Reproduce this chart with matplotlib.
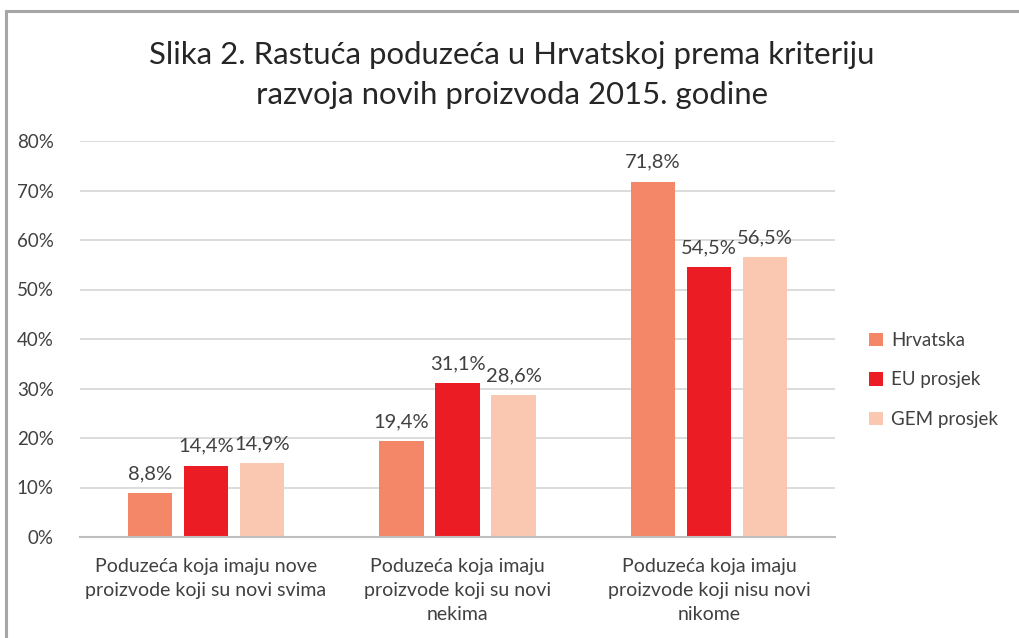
import matplotlib
matplotlib.use("Agg")
import matplotlib.pyplot as plt
from matplotlib.patches import Rectangle
import numpy as np

categories = ["Poduzeća koja imaju nove\nproizvode koji su novi svima",
              "Poduzeća koja imaju\nproizvode koji su novi\nnekima",
              "Poduzeća koja imaju\nproizvode koji nisu novi\nnikome"]
series_names = ["Hrvatska", "EU prosjek", "GEM prosjek"]
hrvatska = [8.8, 19.4, 71.8]
eu = [14.4, 31.1, 54.5]
gem = [14.9, 28.6, 56.5]
yticks = [0, 10, 20, 30, 40, 50, 60, 70, 80]
colors = ["#F38768", "#EC1C24", "#FAC7B1"]

plt.rcParams['font.family'] = ['Lato', 'DejaVu Sans']
fig = plt.figure(figsize=(10.19, 6.38), dpi=100)
ax = fig.add_axes([80/1019, 1-537/638, 755/1019, 396/638])

x = np.arange(len(categories))
w = 0.175
step = 0.2225
for i, (vals, name, c) in enumerate(zip([hrvatska, eu, gem], series_names, colors)):
    pos = x + (i - 1) * step
    ax.bar(pos, vals, width=w, color=c, label=name, zorder=3)
    for p, v in zip(pos, vals):
        ax.text(p, v + 2.2, f"{v:.1f}%".replace('.', ','), ha='center', va='bottom',
                fontsize=14.5, color='#404040')

ax.set_xlim(-0.5, 2.5)
ax.set_ylim(0, 80)
ax.set_yticks(yticks)
ax.set_yticklabels([f"{t}%" for t in yticks], fontsize=13.5, color='#404040')
ax.set_xticks(x)
ax.set_xticklabels(categories, fontsize=14, color='#404040', linespacing=1.5)
ax.tick_params(axis='both', length=0)
ax.tick_params(axis='x', pad=15)
ax.tick_params(axis='y', pad=19)
ax.grid(axis='y', color='#D9D9D9', linewidth=1.3, zorder=0)
for s in ['top', 'right', 'left']:
    ax.spines[s].set_visible(False)
ax.spines['bottom'].set_color('#BFBFBF')
ax.spines['bottom'].set_linewidth(1.5)
ax.spines['bottom'].set_zorder(4)

fig.text(512/1019, 1-75/638, "Slika 2. Rastuća poduzeća u Hrvatskoj prema kriteriju\nrazvoja novih proizvoda 2015. godine",
         ha='center', va='center', fontsize=22.4, color='#262626', linespacing=1.5)

fig.legend(loc='center left', bbox_to_anchor=(852/1019, 1-380/638), frameon=False,
           fontsize=13.5, handlelength=0.75, handleheight=0.75, handletextpad=0.45,
           labelspacing=1.2, labelcolor='#404040')

fig.patches.append(Rectangle((6/1019, -0.1), 1.2, (638-11)/638 + 0.1, transform=fig.transFigure,
                             fill=False, edgecolor='#A6A6A6', linewidth=2.2))

fig.savefig("out.png", dpi=100)
